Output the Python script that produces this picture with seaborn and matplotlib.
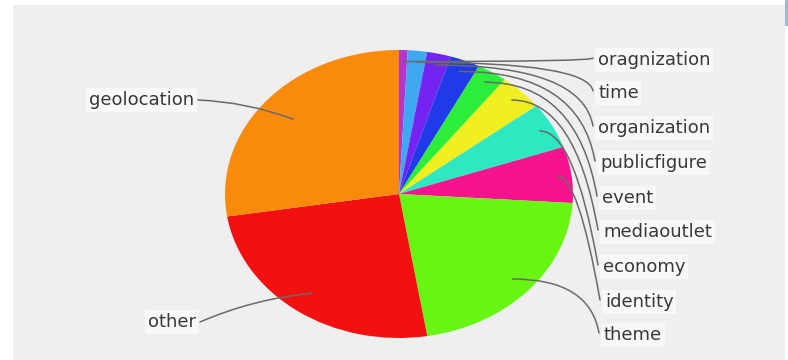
import matplotlib
matplotlib.use("Agg")
import matplotlib.pyplot as plt
from matplotlib.patches import Rectangle
import numpy as np
import seaborn as sns

# ---- data (percent shares) ----
categories = ["oragnization", "time", "organization", "publicfigure", "event",
              "mediaoutlet", "economy", "identity", "theme", "other", "geolocation"]
shares = [0.8, 1.8, 2.2, 2.8, 2.8, 4.1, 5.2, 6.3, 21.4, 25.1, 27.5]
slice_colors = ["#b535d0", "#3fa8f2", "#7424f0", "#1f3ae8", "#2ced3a",
                "#f0f020", "#2ee8c2", "#f5148e", "#68f514", "#f21010", "#fa8a0c"]

sns.set_theme(style="white")
plt.rcParams["font.family"] = ["DejaVu Sans"]
palette = sns.color_palette(slice_colors)

W, H = 788, 360
CX, CY, RX, RY = 399, 194, 174, 144   # pie centre / radii in pixels


def P(px, py):
    """pixel position (from top-left) -> data coords of the stretched pie axes"""
    return ((px - CX) / RX, (CY - py) / RY)


fig = plt.figure(figsize=(W / 100, H / 100), dpi=100)
fig.patch.set_facecolor("white")
fig.add_artist(Rectangle((13 / W, 0), (785 - 13) / W, (H - 5) / H,
                         transform=fig.transFigure, fc="#efefef", ec="none", zorder=0))
fig.add_artist(Rectangle((785 / W, (H - 26) / H), 3 / W, 26 / H,
                         transform=fig.transFigure, fc="#9db8d6", ec="none", zorder=0))

ax = fig.add_axes([0, 0, 1, 1])
ax.patch.set_visible(False)
wedges, _ = ax.pie(shares, colors=palette, startangle=90, counterclock=False,
                   radius=1, center=(0, 0), wedgeprops=dict(linewidth=0))
ax.set_aspect("auto")
ax.set_xlim(P(0, 0)[0], P(W, 0)[0])
ax.set_ylim(P(0, H)[1], P(0, 0)[1])
ax.axis("off")

txt_kw = dict(fontsize=13, color="#383838",
              bbox=dict(boxstyle="square,pad=0.15", fc="white", ec="none", alpha=0.6))
line_kw = dict(arrowstyle="-", color="#6a6a6a", lw=1.1, shrinkA=0, shrinkB=0)

# right-hand labels (layout positions in pixels)
right_x = [598, 598, 598, 600, 602, 603, 603, 605, 604]
right_y = [60, 93, 128, 163, 198, 232, 267, 302, 335]
for i in range(9):
    w = wedges[i]
    mid = np.deg2rad((w.theta1 + w.theta2) / 2)
    r = 0.92 if i < 8 else 0.88
    anchor = (r * np.cos(mid), r * np.sin(mid))
    ax.annotate("", xy=anchor, xycoords="data",
                xytext=P(right_x[i] - 5, right_y[i] - 2), textcoords="data",
                arrowprops=dict(connectionstyle="angle3,angleA=100,angleB=0", **line_kw))
    ax.text(*P(right_x[i], right_y[i]), categories[i], ha="left", va="center", **txt_kw)

# left-hand labels
left = {9: (196, 322, 0.85), 10: (194, 100, 0.8)}
for i, (lx, ly, r) in left.items():
    w = wedges[i]
    mid = np.deg2rad((w.theta1 + w.theta2) / 2)
    anchor = (r * np.cos(mid), r * np.sin(mid))
    ax.annotate("", xy=anchor, xycoords="data",
                xytext=P(lx + 4, ly), textcoords="data",
                arrowprops=dict(connectionstyle="arc3,rad=-0.08", **line_kw))
    ax.text(*P(lx, ly), categories[i], ha="right", va="center", **txt_kw)

fig.savefig("out.png", dpi=100)
